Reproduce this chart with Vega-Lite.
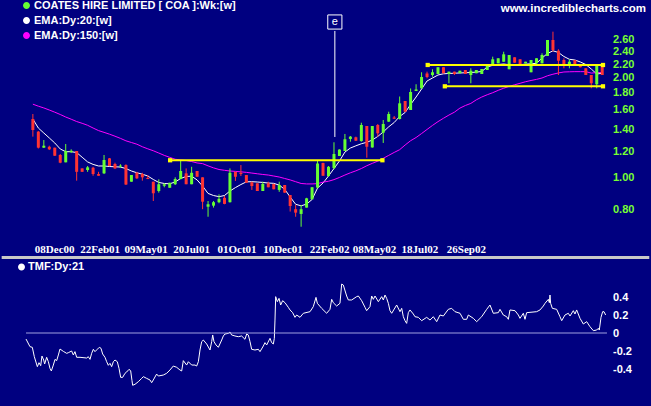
{
  "$schema": "https://vega.github.io/schema/vega-lite/v6.json",
  "autosize": {"type": "pad"},
  "padding": 0,
  "background": "#000080",
  "title": {"text": "www.incrediblecharts.com", "anchor": "end", "color": "#ffffff", "font": "Liberation Sans", "fontSize": 11.5, "fontWeight": "bold", "offset": -14, "dx": -5},
  "spacing": 21,
  "bounds": "flush",
  "resolve": {"scale": {"color": "independent"}, "legend": {"color": "independent"}},
  "datasets": {
    "candles": [
      {"t":0,"o":1.502,"h":1.555,"l":1.329,"c":1.392},
      {"t":1,"o":1.376,"h":1.382,"l":1.224,"c":1.231},
      {"t":2,"o":1.231,"h":1.298,"l":1.228,"c":1.248},
      {"t":3,"o":1.239,"h":1.248,"l":1.211,"c":1.217},
      {"t":4,"o":1.231,"h":1.231,"l":1.162,"c":1.164},
      {"t":5,"o":1.170,"h":1.178,"l":1.105,"c":1.109},
      {"t":6,"o":1.112,"h":1.263,"l":1.112,"c":1.203},
      {"t":7,"o":1.194,"h":1.217,"l":1.186,"c":1.205},
      {"t":8,"o":1.203,"h":1.203,"l":0.979,"c":1.041},
      {"t":9,"o":1.066,"h":1.066,"l":1.041,"c":1.041},
      {"t":10,"o":1.054,"h":1.084,"l":1.041,"c":1.074},
      {"t":11,"o":1.071,"h":1.078,"l":1.013,"c":1.025},
      {"t":12,"o":1.025,"h":1.041,"l":1.013,"c":1.013},
      {"t":13,"o":1.030,"h":1.170,"l":1.025,"c":1.130},
      {"t":14,"o":1.143,"h":1.146,"l":1.084,"c":1.084},
      {"t":15,"o":1.099,"h":1.109,"l":1.061,"c":1.066},
      {"t":16,"o":1.080,"h":1.097,"l":1.071,"c":1.087},
      {"t":17,"o":1.091,"h":1.097,"l":0.950,"c":0.953},
      {"t":18,"o":0.972,"h":1.018,"l":0.972,"c":1.018},
      {"t":19,"o":1.034,"h":1.041,"l":0.990,"c":0.995},
      {"t":20,"o":1.025,"h":1.034,"l":0.979,"c":1.002},
      {"t":21,"o":0.997,"h":1.018,"l":0.990,"c":0.990},
      {"t":22,"o":0.972,"h":0.972,"l":0.850,"c":0.897},
      {"t":23,"o":0.911,"h":0.988,"l":0.901,"c":0.955},
      {"t":24,"o":0.945,"h":0.961,"l":0.935,"c":0.955},
      {"t":25,"o":0.932,"h":0.965,"l":0.932,"c":0.965},
      {"t":26,"o":0.955,"h":1.002,"l":0.950,"c":0.990},
      {"t":27,"o":0.990,"h":1.124,"l":0.988,"c":1.047},
      {"t":28,"o":1.030,"h":1.066,"l":0.955,"c":0.955},
      {"t":29,"o":0.955,"h":1.078,"l":0.955,"c":1.034},
      {"t":30,"o":1.047,"h":1.047,"l":1.006,"c":1.006},
      {"t":31,"o":1.002,"h":1.002,"l":0.803,"c":0.846},
      {"t":32,"o":0.817,"h":0.850,"l":0.762,"c":0.831},
      {"t":33,"o":0.823,"h":0.850,"l":0.812,"c":0.843},
      {"t":34,"o":0.843,"h":0.890,"l":0.837,"c":0.863},
      {"t":35,"o":0.869,"h":0.880,"l":0.831,"c":0.833},
      {"t":36,"o":0.843,"h":1.066,"l":0.841,"c":1.034},
      {"t":37,"o":1.041,"h":1.041,"l":0.977,"c":1.006},
      {"t":38,"o":1.034,"h":1.091,"l":1.011,"c":1.025},
      {"t":39,"o":1.018,"h":1.018,"l":0.965,"c":0.965},
      {"t":40,"o":0.968,"h":0.972,"l":0.918,"c":0.943},
      {"t":41,"o":0.961,"h":0.961,"l":0.911,"c":0.911},
      {"t":42,"o":0.911,"h":0.972,"l":0.911,"c":0.957},
      {"t":43,"o":0.961,"h":0.972,"l":0.935,"c":0.935},
      {"t":44,"o":0.957,"h":0.957,"l":0.922,"c":0.922},
      {"t":45,"o":0.918,"h":0.972,"l":0.906,"c":0.950},
      {"t":46,"o":0.950,"h":0.950,"l":0.899,"c":0.901},
      {"t":47,"o":0.886,"h":0.886,"l":0.790,"c":0.821},
      {"t":48,"o":0.803,"h":0.827,"l":0.762,"c":0.784},
      {"t":49,"o":0.777,"h":0.827,"l":0.711,"c":0.803},
      {"t":50,"o":0.812,"h":0.869,"l":0.812,"c":0.866},
      {"t":51,"o":0.860,"h":0.937,"l":0.860,"c":0.935},
      {"t":52,"o":0.933,"h":1.124,"l":0.928,"c":1.103},
      {"t":53,"o":1.107,"h":1.109,"l":1.013,"c":1.013},
      {"t":54,"o":1.011,"h":1.084,"l":1.006,"c":1.078},
      {"t":55,"o":1.069,"h":1.278,"l":1.061,"c":1.178},
      {"t":56,"o":1.162,"h":1.217,"l":1.162,"c":1.215},
      {"t":57,"o":1.203,"h":1.354,"l":1.203,"c":1.305},
      {"t":58,"o":1.308,"h":1.335,"l":1.283,"c":1.329},
      {"t":59,"o":1.323,"h":1.329,"l":1.289,"c":1.292},
      {"t":60,"o":1.289,"h":1.464,"l":1.283,"c":1.441},
      {"t":61,"o":1.431,"h":1.431,"l":1.148,"c":1.239},
      {"t":62,"o":1.233,"h":1.431,"l":1.231,"c":1.431},
      {"t":63,"o":1.441,"h":1.451,"l":1.329,"c":1.360},
      {"t":64,"o":1.366,"h":1.492,"l":1.272,"c":1.451},
      {"t":65,"o":1.475,"h":1.580,"l":1.471,"c":1.555},
      {"t":66,"o":1.518,"h":1.534,"l":1.502,"c":1.505},
      {"t":67,"o":1.502,"h":1.756,"l":1.497,"c":1.675},
      {"t":68,"o":1.702,"h":1.702,"l":1.580,"c":1.580},
      {"t":69,"o":1.599,"h":1.857,"l":1.599,"c":1.812},
      {"t":70,"o":1.825,"h":1.912,"l":1.825,"c":1.844},
      {"t":71,"o":1.859,"h":2.078,"l":1.859,"c":2.011},
      {"t":72,"o":2.061,"h":2.087,"l":1.993,"c":2.011},
      {"t":73,"o":2.039,"h":2.122,"l":2.015,"c":2.078},
      {"t":74,"o":2.053,"h":2.152,"l":2.053,"c":2.152},
      {"t":75,"o":2.152,"h":2.152,"l":2.064,"c":2.064},
      {"t":76,"o":2.053,"h":2.087,"l":1.925,"c":2.087},
      {"t":77,"o":2.087,"h":2.087,"l":2.039,"c":2.053},
      {"t":78,"o":2.064,"h":2.101,"l":2.064,"c":2.101},
      {"t":79,"o":2.111,"h":2.111,"l":2.053,"c":2.053},
      {"t":80,"o":2.039,"h":2.136,"l":1.925,"c":2.101},
      {"t":81,"o":2.064,"h":2.111,"l":2.064,"c":2.111},
      {"t":82,"o":2.053,"h":2.126,"l":2.053,"c":2.126},
      {"t":83,"o":2.111,"h":2.186,"l":2.111,"c":2.186},
      {"t":84,"o":2.186,"h":2.316,"l":2.186,"c":2.274},
      {"t":85,"o":2.211,"h":2.290,"l":2.211,"c":2.290},
      {"t":86,"o":2.236,"h":2.397,"l":2.236,"c":2.354},
      {"t":87,"o":2.122,"h":2.343,"l":2.122,"c":2.343},
      {"t":88,"o":2.306,"h":2.306,"l":2.221,"c":2.221},
      {"t":89,"o":2.274,"h":2.274,"l":2.186,"c":2.186},
      {"t":90,"o":2.211,"h":2.236,"l":2.211,"c":2.236},
      {"t":91,"o":2.078,"h":2.263,"l":2.078,"c":2.263},
      {"t":92,"o":2.211,"h":2.290,"l":2.211,"c":2.290},
      {"t":93,"o":2.211,"h":2.371,"l":2.211,"c":2.343},
      {"t":94,"o":2.327,"h":2.600,"l":2.327,"c":2.600},
      {"t":95,"o":2.600,"h":2.755,"l":2.397,"c":2.426},
      {"t":96,"o":2.414,"h":2.438,"l":2.039,"c":2.252},
      {"t":97,"o":2.263,"h":2.290,"l":2.136,"c":2.186},
      {"t":98,"o":2.186,"h":2.274,"l":2.136,"c":2.236},
      {"t":99,"o":2.263,"h":2.263,"l":2.186,"c":2.186},
      {"t":100,"o":2.186,"h":2.201,"l":2.149,"c":2.152},
      {"t":101,"o":2.136,"h":2.136,"l":2.039,"c":2.039},
      {"t":102,"o":2.039,"h":2.039,"l":1.859,"c":1.925},
      {"t":103,"o":1.912,"h":2.171,"l":1.859,"c":2.171},
      {"t":104,"o":2.171,"h":2.171,"l":2.039,"c":2.039}
    ],
    "ema": [
      {"t":0,"a":1.502,"b":1.665},{"t":1,"a":1.411,"b":1.642},{"t":2,"a":1.363,"b":1.622},{"t":3,"a":1.317,"b":1.599},
      {"t":4,"a":1.272,"b":1.575},{"t":5,"a":1.220,"b":1.550},{"t":6,"a":1.197,"b":1.523},{"t":7,"a":1.197,"b":1.500},
      {"t":8,"a":1.190,"b":1.476},{"t":9,"a":1.152,"b":1.458},{"t":10,"a":1.115,"b":1.438},{"t":11,"a":1.096,"b":1.411},
      {"t":12,"a":1.084,"b":1.386},{"t":13,"a":1.084,"b":1.369},{"t":14,"a":1.080,"b":1.352},{"t":15,"a":1.078,"b":1.333},
      {"t":16,"a":1.076,"b":1.313},{"t":17,"a":1.065,"b":1.291},{"t":18,"a":1.047,"b":1.276},{"t":19,"a":1.034,"b":1.261},
      {"t":20,"a":1.024,"b":1.239},{"t":21,"a":1.011,"b":1.221},{"t":22,"a":0.987,"b":1.205},{"t":23,"a":0.967,"b":1.186},
      {"t":24,"a":0.960,"b":1.167},{"t":25,"a":0.958,"b":1.151},{"t":26,"a":0.970,"b":1.136},{"t":27,"a":0.994,"b":1.130},
      {"t":28,"a":1.008,"b":1.126},{"t":29,"a":1.010,"b":1.118},{"t":30,"a":0.984,"b":1.107},{"t":31,"a":0.943,"b":1.102},
      {"t":32,"a":0.896,"b":1.085},{"t":33,"a":0.883,"b":1.070},{"t":34,"a":0.876,"b":1.058},{"t":35,"a":0.883,"b":1.052},
      {"t":36,"a":0.911,"b":1.047},{"t":37,"a":0.933,"b":1.044},{"t":38,"a":0.953,"b":1.041},{"t":39,"a":0.971,"b":1.037},
      {"t":40,"a":0.972,"b":1.032},{"t":41,"a":0.970,"b":1.027},{"t":42,"a":0.967,"b":1.022},{"t":43,"a":0.963,"b":1.018},
      {"t":44,"a":0.961,"b":1.011},{"t":45,"a":0.949,"b":1.004},{"t":46,"a":0.922,"b":0.994},{"t":47,"a":0.874,"b":0.984},
      {"t":48,"a":0.831,"b":0.972},{"t":49,"a":0.822,"b":0.960},{"t":50,"a":0.832,"b":0.957},{"t":51,"a":0.859,"b":0.957},
      {"t":52,"a":0.930,"b":0.959},{"t":53,"a":0.963,"b":0.969},{"t":54,"a":1.011,"b":0.975},{"t":55,"a":1.065,"b":0.986},
      {"t":56,"a":1.122,"b":1.001},{"t":57,"a":1.194,"b":1.018},{"t":58,"a":1.228,"b":1.034},{"t":59,"a":1.247,"b":1.048},
      {"t":60,"a":1.265,"b":1.065},{"t":61,"a":1.278,"b":1.086},{"t":62,"a":1.298,"b":1.104},{"t":63,"a":1.331,"b":1.121},
      {"t":64,"a":1.373,"b":1.143},{"t":65,"a":1.423,"b":1.167},{"t":66,"a":1.466,"b":1.191},{"t":67,"a":1.529,"b":1.214},
      {"t":68,"a":1.572,"b":1.254},{"t":69,"a":1.661,"b":1.292},{"t":70,"a":1.750,"b":1.321},{"t":71,"a":1.850,"b":1.358},
      {"t":72,"a":1.956,"b":1.397},{"t":73,"a":1.997,"b":1.437},{"t":74,"a":2.039,"b":1.475},{"t":75,"a":2.056,"b":1.510},
      {"t":76,"a":2.061,"b":1.544},{"t":77,"a":2.064,"b":1.575},{"t":78,"a":2.068,"b":1.620},{"t":79,"a":2.071,"b":1.650},
      {"t":80,"a":2.075,"b":1.674},{"t":81,"a":2.080,"b":1.716},{"t":82,"a":2.090,"b":1.750},{"t":83,"a":2.156,"b":1.778},
      {"t":84,"a":2.181,"b":1.803},{"t":85,"a":2.193,"b":1.833},{"t":86,"a":2.201,"b":1.860},{"t":87,"a":2.189,"b":1.884},
      {"t":88,"a":2.186,"b":1.905},{"t":89,"a":2.190,"b":1.925},{"t":90,"a":2.199,"b":1.946},{"t":91,"a":2.204,"b":1.963},
      {"t":92,"a":2.211,"b":1.978},{"t":93,"a":2.295,"b":1.997},{"t":94,"a":2.367,"b":2.028},{"t":95,"a":2.412,"b":2.050},
      {"t":96,"a":2.384,"b":2.068},{"t":97,"a":2.319,"b":2.082},{"t":98,"a":2.274,"b":2.085},{"t":99,"a":2.263,"b":2.087},
      {"t":100,"a":2.232,"b":2.087},{"t":101,"a":2.193,"b":2.087},{"t":102,"a":2.126,"b":2.066},{"t":103,"a":2.053,"b":2.073},
      {"t":104,"a":2.064,"b":2.075}
    ],
    "trend": [
      {"t0":25.07,"t1":63.85,"p":1.128},
      {"t0":72.12,"t1":104.14,"p":2.186},
      {"t0":75.25,"t1":104.14,"p":1.885}
    ],
    "signal": [
      {"t":55.16,"top":2.768,"tip":1.326,"box":2.946,"label":"e"}
    ],
    "rules": [
      {"t0":-0.34,"t1":98.97,"v":0},
      {"t0":-4.5,"t1":106.2,"v":0.8389}
    ],
    "tmf": [
      {"t":-0.34,"v":-0.067},{"t":0.34,"v":-0.152},{"t":0.74,"v":-0.159},{"t":1.08,"v":-0.263},{"t":1.6,"v":-0.374},
      {"t":1.88,"v":-0.33},{"t":2.17,"v":-0.363},{"t":2.39,"v":-0.256},{"t":2.68,"v":-0.3},{"t":2.85,"v":-0.344},
      {"t":3.19,"v":-0.27},{"t":3.48,"v":-0.319},{"t":3.76,"v":-0.393},{"t":3.99,"v":-0.422},{"t":4.33,"v":-0.356},
      {"t":4.62,"v":-0.293},{"t":4.9,"v":-0.307},{"t":5.19,"v":-0.244},{"t":5.47,"v":-0.178},{"t":6.04,"v":-0.204},
      {"t":6.61,"v":-0.226},{"t":6.89,"v":-0.219},{"t":7.46,"v":-0.2},{"t":7.75,"v":-0.244},{"t":8.03,"v":-0.207},
      {"t":8.32,"v":-0.27},{"t":8.89,"v":-0.27},{"t":10.03,"v":-0.278},{"t":10.31,"v":-0.263},{"t":10.6,"v":-0.293},
      {"t":10.88,"v":-0.226},{"t":11.17,"v":-0.181},{"t":11.45,"v":-0.207},{"t":11.85,"v":-0.181},{"t":12.19,"v":-0.159},
      {"t":12.48,"v":-0.17},{"t":12.76,"v":-0.233},{"t":13.16,"v":-0.27},{"t":13.45,"v":-0.319},{"t":13.73,"v":-0.359},
      {"t":14.02,"v":-0.337},{"t":14.3,"v":-0.374},{"t":14.59,"v":-0.319},{"t":14.87,"v":-0.3},{"t":15.27,"v":-0.319},
      {"t":15.56,"v":-0.393},{"t":15.84,"v":-0.493},{"t":16.18,"v":-0.493},{"t":16.58,"v":-0.448},{"t":16.87,"v":-0.433},
      {"t":17.26,"v":-0.404},{"t":17.55,"v":-0.419},{"t":17.78,"v":-0.53},{"t":17.89,"v":-0.581},{"t":18.29,"v":-0.57},
      {"t":18.86,"v":-0.541},{"t":19.43,"v":-0.504},{"t":19.72,"v":-0.485},{"t":20.28,"v":-0.504},{"t":20.85,"v":-0.522},
      {"t":21.14,"v":-0.552},{"t":21.42,"v":-0.522},{"t":21.99,"v":-0.456},{"t":22.28,"v":-0.478},{"t":23.13,"v":-0.467},
      {"t":23.7,"v":-0.448},{"t":24.27,"v":-0.411},{"t":24.84,"v":-0.367},{"t":25.41,"v":-0.381},{"t":25.98,"v":-0.411},
      {"t":26.27,"v":-0.422},{"t":26.55,"v":-0.307},{"t":27.12,"v":-0.356},{"t":27.41,"v":-0.319},{"t":27.98,"v":-0.356},
      {"t":28.55,"v":-0.356},{"t":28.83,"v":-0.367},{"t":29.12,"v":-0.319},{"t":29.4,"v":-0.189},{"t":29.69,"v":-0.096},
      {"t":29.97,"v":-0.078},{"t":30.54,"v":-0.122},{"t":31.11,"v":-0.189},{"t":31.4,"v":-0.096},{"t":31.57,"v":-0.022},
      {"t":31.79,"v":-0.096},{"t":32.14,"v":-0.133},{"t":32.54,"v":-0.159},{"t":33.11,"v":-0.078},{"t":33.39,"v":-0.033},
      {"t":33.68,"v":-0.011},{"t":34.25,"v":-0.004},{"t":34.53,"v":0.011},{"t":34.81,"v":-0.022},{"t":35.38,"v":-0.033},
      {"t":35.95,"v":-0.041},{"t":36.52,"v":-0.033},{"t":37.09,"v":-0.07},{"t":37.38,"v":-0.011},{"t":37.66,"v":-0.022},
      {"t":37.95,"v":-0.096},{"t":38.23,"v":-0.181},{"t":38.8,"v":-0.189},{"t":39.37,"v":-0.181},{"t":39.66,"v":-0.207},
      {"t":40.23,"v":-0.144},{"t":40.51,"v":-0.107},{"t":40.8,"v":-0.133},{"t":41.37,"v":-0.059},{"t":41.65,"v":-0.107},
      {"t":41.94,"v":-0.122},{"t":42.11,"v":-0.059},{"t":42.22,"v":0.144},{"t":42.34,"v":0.404},{"t":42.62,"v":0.348},
      {"t":42.91,"v":0.385},{"t":43.19,"v":0.311},{"t":43.53,"v":0.359},{"t":43.93,"v":0.337},{"t":44.5,"v":0.285},
      {"t":44.79,"v":0.256},{"t":45.24,"v":0.226},{"t":45.64,"v":0.174},{"t":45.93,"v":0.2},{"t":46.5,"v":0.174},
      {"t":47.07,"v":0.219},{"t":48.21,"v":0.237},{"t":48.77,"v":0.293},{"t":49.23,"v":0.396},{"t":49.46,"v":0.33},
      {"t":50.2,"v":0.274},{"t":51.05,"v":0.219},{"t":51.62,"v":0.263},{"t":51.91,"v":0.374},{"t":52.19,"v":0.337},
      {"t":52.76,"v":0.3},{"t":53.33,"v":0.33},{"t":53.62,"v":0.544},{"t":53.9,"v":0.533},{"t":54.47,"v":0.411},
      {"t":54.76,"v":0.367},{"t":55.33,"v":0.367},{"t":56.18,"v":0.404},{"t":56.47,"v":0.411},{"t":57.04,"v":0.359},
      {"t":57.61,"v":0.285},{"t":57.89,"v":0.248},{"t":58.46,"v":0.293},{"t":58.75,"v":0.411},{"t":59.03,"v":0.374},
      {"t":59.32,"v":0.411},{"t":59.89,"v":0.348},{"t":60.46,"v":0.404},{"t":60.74,"v":0.367},{"t":61.03,"v":0.422},
      {"t":61.31,"v":0.385},{"t":61.6,"v":0.33},{"t":61.88,"v":0.248},{"t":62.17,"v":0.219},{"t":63.02,"v":0.311},
      {"t":63.59,"v":0.237},{"t":63.88,"v":0.274},{"t":64.16,"v":0.181},{"t":64.44,"v":0.137},{"t":64.73,"v":0.107},
      {"t":65.01,"v":0.226},{"t":65.3,"v":0.256},{"t":65.87,"v":0.211},{"t":66.15,"v":0.181},{"t":66.72,"v":0.174},
      {"t":67.29,"v":0.137},{"t":68.15,"v":0.174},{"t":68.72,"v":0.144},{"t":69.29,"v":0.181},{"t":69.86,"v":0.126},
      {"t":70.43,"v":0.2},{"t":71.0,"v":0.189},{"t":71.85,"v":0.263},{"t":72.42,"v":0.274},{"t":72.99,"v":0.237},
      {"t":73.85,"v":0.219},{"t":74.42,"v":0.152},{"t":74.99,"v":0.152},{"t":75.27,"v":0.2},{"t":76.13,"v":0.163},
      {"t":76.7,"v":0.126},{"t":77.55,"v":0.181},{"t":78.41,"v":0.263},{"t":78.97,"v":0.311},{"t":79.54,"v":0.219},
      {"t":80.4,"v":0.226},{"t":80.68,"v":0.263},{"t":81.25,"v":0.2},{"t":81.82,"v":0.181},{"t":82.11,"v":0.152},
      {"t":82.39,"v":0.256},{"t":83.25,"v":0.248},{"t":83.82,"v":0.2},{"t":84.1,"v":0.163},{"t":84.67,"v":0.219},
      {"t":84.96,"v":0.152},{"t":85.24,"v":0.226},{"t":86.95,"v":0.237},{"t":87.52,"v":0.256},{"t":88.09,"v":0.3},
      {"t":88.38,"v":0.33},{"t":88.95,"v":0.374},{"t":89.12,"v":0.337},{"t":89.23,"v":0.422},{"t":89.34,"v":0.33},
      {"t":89.63,"v":0.274},{"t":90.37,"v":0.263},{"t":90.94,"v":0.181},{"t":91.23,"v":0.137},{"t":91.79,"v":0.2},
      {"t":92.36,"v":0.219},{"t":92.65,"v":0.189},{"t":93.22,"v":0.248},{"t":93.5,"v":0.211},{"t":93.79,"v":0.256},
      {"t":94.36,"v":0.163},{"t":94.93,"v":0.1},{"t":95.5,"v":0.126},{"t":96.07,"v":0.07},{"t":96.64,"v":0.026},
      {"t":97.21,"v":0.033},{"t":97.49,"v":0.052},{"t":97.66,"v":0.033},{"t":97.95,"v":0.174},{"t":98.23,"v":0.237},
      {"t":98.46,"v":0.237},{"t":98.74,"v":0.2}
    ]
  },
  "vconcat": [
    {
      "width": 651,
      "height": 224,
      "layer": [
        {
          "data": {"name": "ema"},
          "transform": [{"fold": ["a", "b"], "as": ["k", "v"]}],
          "mark": {"type": "line", "strokeWidth": 1},
          "encoding": {
            "x": {"field": "t", "type": "quantitative", "title": null,
              "scale": {"domain": [-5.09, 111.996], "nice": false, "zero": false},
              "axis": {"orient": "bottom", "labels": true, "ticks": false, "domain": false, "grid": false,
                "values": [3.9, 12.2, 20.6, 28.9, 37.2, 45.6, 54.1, 62.3, 70.6, 79.1],
                "labelExpr": "datum.value < 8 ? '08Dec00' : datum.value < 16 ? '22Feb01' : datum.value < 24 ? '09May01' : datum.value < 33 ? '20Jul01' : datum.value < 41 ? '01Oct01' : datum.value < 50 ? '10Dec01' : datum.value < 58 ? '22Feb02' : datum.value < 66 ? '08May02' : datum.value < 75 ? '18Jul02' : '26Sep02'",
                "labelPadding": 8, "labelFont": "Liberation Sans Narrow", "labelFontSize": 11, "labelFontWeight": "bold",
                "labelColor": "#ffffff", "labelOverlap": false, "labelFlush": false}},
            "y": {"field": "v", "type": "quantitative", "title": null,
              "scale": {"type": "log", "domain": [0.6713, 3.18], "nice": false},
              "axis": {"orient": "right", "labels": true, "ticks": false, "domain": false, "grid": false, "offset": -38.5,
                "values": [0.8, 1, 1.2, 1.4, 1.6, 1.8, 2, 2.2, 2.4, 2.6], "format": ".2f",
                "labelFont": "Liberation Sans", "labelFontSize": 11, "labelFontWeight": "bold", "labelPadding": 0,
                "labelColor": "#77ff33", "labelAlign": "left", "labelBaseline": "middle", "labelOverlap": false}},
            "color": {"field": "k", "type": "nominal",
              "scale": {"domain": ["s", "a", "b"], "range": ["#66ff33", "#ffffff", "#ff00ff"]},
              "legend": {"orient": "none", "legendX": 21, "legendY": -11, "title": null, "symbolType": "circle",
                "symbolSize": 12, "symbolStrokeWidth": 3.5, "labelColor": "#ffffff", "labelFont": "Liberation Sans",
                "labelFontSize": 11, "labelFontWeight": "bold", "labelLimit": 400, "labelOffset": 2, "rowPadding": -7, "padding": 0,
                "labelExpr": "datum.value == 's' ? 'COATES HIRE LIMITED [ COA ]:Wk:[w]' : datum.value == 'a' ? 'EMA:Dy:20:[w]' : 'EMA:Dy:150:[w]'"}}
          }
        },
        {
          "data": {"name": "candles"},
          "mark": {"type": "rule", "strokeWidth": 1},
          "encoding": {
            "x": {"field": "t", "type": "quantitative", "title": null, "scale": {"domain": [-5.09, 111.996], "nice": false, "zero": false}},
            "y": {"field": "l", "type": "quantitative", "title": null, "scale": {"type": "log", "domain": [0.6713, 3.18], "nice": false}},
            "y2": {"field": "h"},
            "color": {"condition": {"test": "datum.c >= datum.o", "value": "#66ff33"}, "value": "#ff3333"}
          }
        },
        {
          "data": {"name": "candles"},
          "mark": {"type": "bar", "width": 3},
          "encoding": {
            "x": {"field": "t", "type": "quantitative", "title": null, "scale": {"domain": [-5.09, 111.996], "nice": false, "zero": false}},
            "y": {"field": "o", "type": "quantitative", "title": null, "scale": {"type": "log", "domain": [0.6713, 3.18], "nice": false}},
            "y2": {"field": "c"},
            "color": {"condition": {"test": "datum.c >= datum.o", "value": "#66ff33"}, "value": "#ff3333"}
          }
        },
        {
          "data": {"name": "trend"},
          "mark": {"type": "rule", "strokeWidth": 2, "color": "#ffff00"},
          "encoding": {
            "x": {"field": "t0", "type": "quantitative", "title": null, "scale": {"domain": [-5.09, 111.996], "nice": false, "zero": false}},
            "x2": {"field": "t1"},
            "y": {"field": "p", "type": "quantitative", "title": null, "scale": {"type": "log", "domain": [0.6713, 3.18], "nice": false}}
          }
        },
        {
          "data": {"name": "trend"},
          "transform": [{"fold": ["t0", "t1"], "as": ["end", "te"]}],
          "mark": {"type": "point", "shape": "square", "filled": true, "size": 18, "color": "#ffff00", "opacity": 1},
          "encoding": {
            "x": {"field": "te", "type": "quantitative", "title": null, "scale": {"domain": [-5.09, 111.996], "nice": false, "zero": false}},
            "y": {"field": "p", "type": "quantitative", "title": null, "scale": {"type": "log", "domain": [0.6713, 3.18], "nice": false}}
          }
        },
        {
          "data": {"name": "signal"},
          "mark": {"type": "rule", "strokeWidth": 1, "color": "#ffffff"},
          "encoding": {
            "x": {"field": "t", "type": "quantitative", "title": null, "scale": {"domain": [-5.09, 111.996], "nice": false, "zero": false}},
            "y": {"field": "top", "type": "quantitative", "title": null, "scale": {"type": "log", "domain": [0.6713, 3.18], "nice": false}},
            "y2": {"field": "tip"}
          }
        },
        {
          "data": {"name": "signal"},
          "mark": {"type": "point", "shape": "square", "filled": true, "size": 200, "fill": "#000080", "stroke": "#ffffff", "strokeWidth": 1, "opacity": 1},
          "encoding": {
            "x": {"field": "t", "type": "quantitative", "title": null, "scale": {"domain": [-5.09, 111.996], "nice": false, "zero": false}},
            "y": {"field": "box", "type": "quantitative", "title": null, "scale": {"type": "log", "domain": [0.6713, 3.18], "nice": false}}
          }
        },
        {
          "data": {"name": "signal"},
          "mark": {"type": "text", "color": "#ffffff", "font": "Liberation Sans", "fontSize": 11, "align": "center", "baseline": "middle"},
          "encoding": {
            "x": {"field": "t", "type": "quantitative", "title": null, "scale": {"domain": [-5.09, 111.996], "nice": false, "zero": false}},
            "y": {"field": "box", "type": "quantitative", "title": null, "scale": {"type": "log", "domain": [0.6713, 3.18], "nice": false}},
            "text": {"field": "label"}
          }
        }
      ]
    },
    {
      "width": 651,
      "height": 150,
      "layer": [
        {
          "data": {"name": "tmf"},
          "transform": [{"fold": ["v"], "as": ["k", "val"]}],
          "mark": {"type": "line", "strokeWidth": 1},
          "encoding": {
            "x": {"field": "t", "type": "quantitative", "title": null,
              "scale": {"domain": [-4.786, 106.496], "nice": false, "zero": false},
              "axis": {"orient": "bottom", "labels": false, "ticks": false, "grid": false, "domain": false}},
            "y": {"field": "val", "type": "quantitative", "title": null,
              "scale": {"domain": [-0.8111, 0.8556], "nice": false, "zero": false},
              "axis": {"orient": "right", "labels": true, "ticks": false, "domain": false, "grid": false, "offset": -38.5,
                "tickCount": 8,
                "labelExpr": "abs(datum.value) > 0.5 ? '' : abs(datum.value) < 0.01 ? '0' : (datum.value < 0 ? '-' : '') + format(abs(datum.value), '.1f')",
                "labelFont": "Liberation Sans", "labelFontSize": 11, "labelFontWeight": "bold", "labelPadding": 0,
                "labelColor": "#ffffff", "labelAlign": "left", "labelBaseline": "middle", "labelOverlap": false, "labelSeparation": 0}},
            "color": {"field": "k", "type": "nominal", "scale": {"domain": ["v"], "range": ["#ffffff"]},
              "legend": {"orient": "none", "legendX": 16, "legendY": 5.5, "title": null, "symbolType": "circle",
                "symbolSize": 12, "symbolStrokeWidth": 3.5, "labelColor": "#ffffff", "labelFont": "Liberation Sans",
                "labelFontSize": 11, "labelFontWeight": "bold", "labelOffset": 1, "padding": 0,
                "labelExpr": "'TMF:Dy:21'"}}
          }
        },
        {
          "data": {"name": "rules"},
          "mark": {"type": "rule"},
          "encoding": {
            "x": {"field": "t0", "type": "quantitative", "title": null, "scale": {"domain": [-4.786, 106.496], "nice": false, "zero": false}},
            "x2": {"field": "t1"},
            "y": {"field": "v", "type": "quantitative", "title": null, "scale": {"domain": [-0.8111, 0.8556], "nice": false, "zero": false}},
            "color": {"condition": {"test": "datum.v > 0.5", "value": "#c8c8c8"}, "value": "#a0a0e0"},
            "strokeWidth": {"condition": {"test": "datum.v > 0.5", "value": 3}, "value": 1}
          }
        }
      ]
    }
  ],
  "config": {
    "background": "#000080",
    "view": {"stroke": null},
    "axis": {"grid": false, "ticks": false, "domain": false, "labelColor": "#ffffff", "labelOverlap": false}
  }
}
